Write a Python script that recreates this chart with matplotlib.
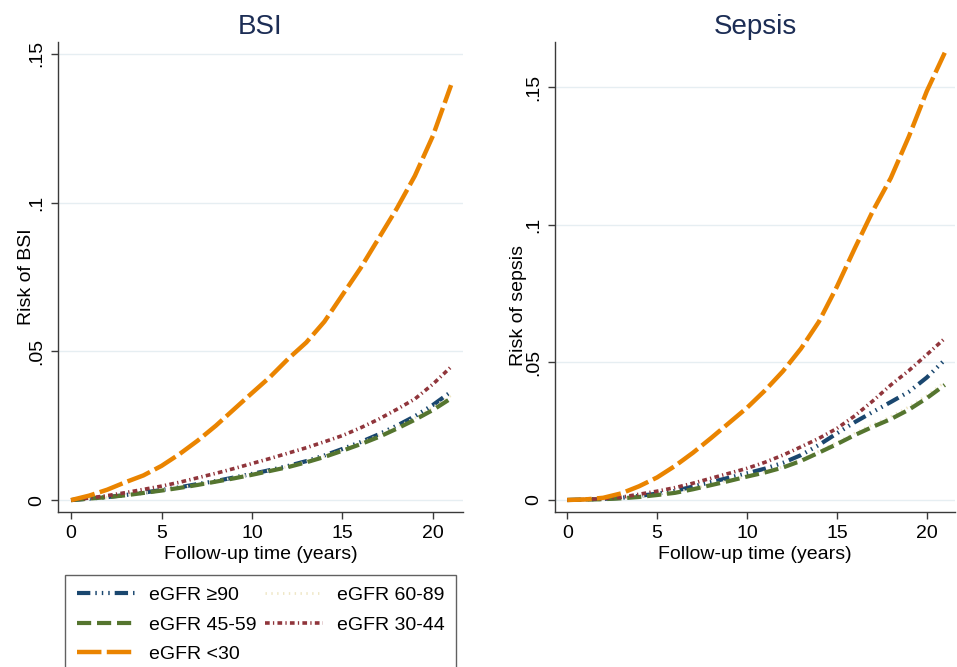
import matplotlib
matplotlib.use("Agg")
import matplotlib.pyplot as plt

# ── data ────────────────────────────────────────────────────
years = list(range(0, 22))

groups = ["eGFR \u226590", "eGFR 60-89", "eGFR 45-59", "eGFR 30-44", "eGFR <30"]

bsi_90 = [0, 0.0005, 0.0010, 0.0017, 0.0025, 0.0034, 0.0043, 0.0054, 0.0064, 0.0076, 0.0088,
          0.0101, 0.0115, 0.0131, 0.0150, 0.0172, 0.0195, 0.0221, 0.0250, 0.0282, 0.0320, 0.0364]
bsi_60 = [0, 0.0005, 0.0010, 0.0016, 0.0024, 0.0033, 0.0042, 0.0052, 0.0063, 0.0075, 0.0087,
          0.0100, 0.0113, 0.0129, 0.0147, 0.0169, 0.0192, 0.0217, 0.0245, 0.0276, 0.0312, 0.0352]
bsi_45 = [0, 0.0005, 0.0010, 0.0016, 0.0024, 0.0032, 0.0041, 0.0051, 0.0062, 0.0073, 0.0085,
          0.0098, 0.0111, 0.0127, 0.0145, 0.0166, 0.0188, 0.0212, 0.0240, 0.0270, 0.0303, 0.0342]
bsi_30 = [0, 0.0007, 0.0015, 0.0025, 0.0036, 0.0047, 0.0060, 0.0075, 0.0090, 0.0106, 0.0123,
          0.0140, 0.0158, 0.0176, 0.0196, 0.0217, 0.0243, 0.0272, 0.0305, 0.0340, 0.0390, 0.0448]
bsi_lt30 = [0, 0.0015, 0.0035, 0.0060, 0.0083, 0.0115, 0.0155, 0.0200, 0.0250, 0.0305, 0.0360,
            0.0414, 0.0475, 0.0530, 0.0600, 0.0690, 0.0780, 0.0880, 0.0980, 0.1090, 0.1225, 0.1395]

sep_90 = [0, 0.0002, 0.0004, 0.0008, 0.0015, 0.0023, 0.0033, 0.0049, 0.0065, 0.0081, 0.0097,
          0.0114, 0.0135, 0.0163, 0.0200, 0.0242, 0.0283, 0.0320, 0.0356, 0.0393, 0.0445, 0.0509]
sep_60 = [0, 0.0001, 0.0003, 0.0007, 0.0012, 0.0019, 0.0028, 0.0041, 0.0056, 0.0071, 0.0087,
          0.0102, 0.0121, 0.0146, 0.0177, 0.0209, 0.0243, 0.0274, 0.0303, 0.0338, 0.0380, 0.0428]
sep_45 = [0, 0.0001, 0.0003, 0.0006, 0.0011, 0.0018, 0.0026, 0.0039, 0.0054, 0.0069, 0.0085,
          0.0100, 0.0118, 0.0142, 0.0172, 0.0203, 0.0236, 0.0266, 0.0294, 0.0328, 0.0370, 0.0418]
sep_30 = [0, 0.0002, 0.0005, 0.0010, 0.0021, 0.0032, 0.0045, 0.0061, 0.0079, 0.0097, 0.0115,
          0.0137, 0.0163, 0.0193, 0.0224, 0.0260, 0.0306, 0.0360, 0.0418, 0.0470, 0.0528, 0.0587]
sep_lt30 = [0, 0.0002, 0.0008, 0.0024, 0.0050, 0.0082, 0.0124, 0.0172, 0.0225, 0.0280, 0.0335,
            0.0398, 0.0468, 0.0550, 0.0648, 0.0775, 0.0915, 0.1050, 0.1170, 0.1320, 0.1485, 0.1625]

yticks = [0, 0.05, 0.10, 0.15]
ytick_labels = ["0", ".05", ".1", ".15"]
xticks = [0, 5, 10, 15, 20]

# ── styles (Stata s2color-like) ─────────────────────────────
styles = {
    "eGFR \u226590": dict(color="#1a476f", lw=3.0, dashes=(3.2, 1.2, 0.35, 1.2, 0.35, 1.2, 0.35, 1.2)),
    "eGFR 60-89": dict(color="#efe7c6", lw=2.0, dashes=(0.5, 1.6)),
    "eGFR 45-59": dict(color="#55752f", lw=3.0, dashes=(3.4, 1.4)),
    "eGFR 30-44": dict(color="#90353b", lw=2.6, dashes=(1.3, 0.9, 0.35, 0.9)),
    "eGFR <30": dict(color="#ea8400", lw=3.2, dashes=(5.5, 1.2)),
}

plt.rcParams["font.family"] = ["Liberation Sans", "DejaVu Sans"]

fig = plt.figure(figsize=(9.57, 6.67), dpi=100)
W, H = 957, 667
axes_px = [(58, 463, -0.72, 21.66, -0.0040, 0.1540),
           (555, 955, -0.68, 21.57, -0.00436, 0.1664)]

panels = [
    ("BSI", "Risk of BSI", [bsi_90, bsi_60, bsi_45, bsi_30, bsi_lt30], (-0.058, 0.50)),
    ("Sepsis", "Risk of sepsis", [sep_90, sep_60, sep_45, sep_30, sep_lt30], (-0.070, 0.44)),
]

handles = {}
for (x0, x1, xl0, xl1, yl0, yl1), (title, ylab, series, lab_pos) in zip(axes_px, panels):
    ax = fig.add_axes([x0 / W, (H - 512) / H, (x1 - x0) / W, (512 - 42) / H])
    for name, vals in zip(groups, series):
        st = styles[name]
        ln, = ax.plot(years, vals, color=st["color"], lw=st["lw"],
                      dashes=st["dashes"], label=name, solid_capstyle="butt")
        handles[name] = ln
    ax.set_xlim(xl0, xl1)
    ax.set_ylim(yl0, yl1)
    ax.set_xticks(xticks)
    ax.set_yticks(yticks)
    ax.set_yticklabels(ytick_labels, rotation=90, va="center")
    ax.grid(True, axis="y", color="#e6eef2", lw=1.0)
    ax.set_axisbelow(True)
    for s in ["top", "right"]:
        ax.spines[s].set_visible(False)
    for s in ["left", "bottom"]:
        ax.spines[s].set_color("#3a3a3a")
        ax.spines[s].set_linewidth(1.0)
    ax.tick_params(axis="both", direction="out", length=5, width=1.0,
                   color="#3a3a3a", labelsize=14, pad=4)
    ax.set_xlabel("Follow-up time (years)", fontsize=14, labelpad=3)
    ax.set_ylabel(ylab, fontsize=14)
    ax.yaxis.set_label_coords(*lab_pos)
    ax.set_title(title, fontsize=20, color="#1c2d55", pad=6)

order = ["eGFR \u226590", "eGFR 45-59", "eGFR <30", "eGFR 60-89", "eGFR 30-44"]
leg = fig.legend([handles[k] for k in order], order, ncol=2, loc="upper left",
                 bbox_to_anchor=(65 / W, -0.2, 391 / W, 0.2 + 92 / H), mode="expand",
                 fontsize=14, frameon=True, fancybox=False, handlelength=3.0,
                 handletextpad=0.7, labelspacing=0.6, borderpad=0.6,
                 columnspacing=0.2, borderaxespad=0)
leg.get_frame().set_edgecolor("#3a3a3a")
leg.get_frame().set_linewidth(1.0)

plt.savefig("out.png", dpi=100, facecolor="white")
